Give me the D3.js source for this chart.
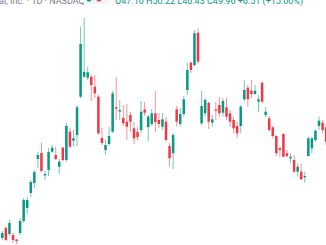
<!DOCTYPE html>
<html>
<head>
<meta charset="utf-8">
<script src="https://cdn.jsdelivr.net/npm/d3@7"></script>
<style>
    html, body { margin: 0; padding: 0; background: #fff; overflow: hidden; }
    svg { display: block; }
    .legend-title { fill: #787b86; }
    .legend-values { fill: #089981; }
</style>
</head>
<body>
<svg id="chart" width="326" height="245"></svg>
<script>
// daily candles
const openP = [26.4, 28.4, 27.2, 27.0, 26.1, 27.4, 29.8, 32.4, 35.4, 37.4,
    42.2, 43.4, 38.9, 40.0, 43.66, 43.0, 40.66, 44.46, 42.0, 47.66,
    45.86, 47.0, 54.66, 58.66, 58.46, 58.66, 56.66, 54.66, 46.4, 44.0,
    45.2, 47.66, 52.54, 51.7, 50.4, 49.66, 51.0, 48.34, 47.6, 48.0,
    52.1, 48.6, 49.2, 51.34, 50.0, 48.66, 49.66, 44.8, 43.34, 52.14,
    49.2, 51.2, 56.0, 61.46, 61.0, 67.46, 49.34, 51.34, 53.46, 49.46,
    52.14, 53.0, 51.46, 52.54, 51.34, 50.0, 48.8, 48.8, 54.14, 56.46,
    55.86, 55.2, 53.66, 57.46, 51.0, 50.34, 48.54, 46.8, 44.34, 47.2,
    43.34, 42.34, 42.0, 39.66, 39.66, 38.54, 42.8, 44.34, 46.0, 48.8,
    49.46, 48.54];
const highP = [27.8, 28.8, 30.0, 27.4, 26.2, 30.4, 34.4, 34.6, 38.0, 40.0,
    43.6, 45.46, 39.8, 44.4, 45.0, 44.66, 42.2, 44.66, 49.46, 48.4,
    48.0, 53.0, 68.66, 70.4, 60.66, 59.14, 59.0, 55.0, 48.4, 46.0,
    48.6, 55.8, 58.6, 54.0, 53.0, 53.2, 51.6, 49.6, 48.6, 53.8,
    53.6, 51.0, 52.2, 55.8, 51.4, 51.4, 50.6, 45.4, 47.4, 52.8,
    52.4, 54.8, 61.46, 61.66, 68.0, 68.34, 55.8, 54.4, 53.66, 51.0,
    53.66, 54.6, 54.4, 54.4, 52.0, 50.6, 49.66, 53.0, 58.0, 57.0,
    58.0, 57.0, 55.0, 57.66, 52.6, 50.8, 48.8, 47.0, 44.66, 47.34,
    44.0, 43.34, 43.0, 41.34, 41.34, 39.66, 46.66, 46.66, 48.0, 50.66,
    50.0, 49.0];
const lowP = [26.0, 25.8, 26.8, 25.4, 25.2, 27.0, 29.4, 31.2, 34.6, 36.4,
    40.4, 39.6, 38.0, 38.8, 43.4, 42.0, 39.2, 41.66, 41.66, 44.34,
    44.66, 44.8, 54.34, 58.4, 58.0, 53.8, 54.4, 47.0, 45.0, 43.0,
    44.8, 47.4, 50.0, 50.0, 48.8, 46.0, 47.6, 45.2, 46.0, 47.4,
    50.8, 45.66, 48.8, 47.6, 48.4, 48.0, 45.66, 40.66, 40.2, 48.66,
    48.66, 50.66, 55.0, 59.4, 60.66, 61.34, 49.0, 50.66, 48.2, 48.66,
    50.0, 50.66, 50.66, 50.0, 48.66, 47.34, 46.34, 47.34, 53.66, 52.66,
    54.34, 55.0, 51.66, 53.34, 50.54, 47.66, 46.34, 42.8, 42.54, 42.54,
    42.54, 41.34, 39.34, 38.66, 38.0, 37.46, 42.66, 43.34, 45.66, 48.0,
    47.34, 45.0];
const closeP = [27.4, 26.0, 29.4, 26.0, 25.8, 29.8, 34.0, 34.0, 37.6, 39.6,
    43.0, 39.8, 39.2, 43.6, 44.46, 42.2, 41.66, 42.0, 48.8, 44.66,
    46.34, 52.54, 65.2, 59.6, 59.54, 57.0, 55.34, 47.34, 45.4, 45.0,
    46.8, 55.34, 52.26, 52.0, 49.34, 48.66, 49.66, 46.34, 46.6, 51.66,
    51.46, 50.7, 51.34, 49.6, 49.2, 50.14, 46.0, 42.34, 47.0, 49.66,
    51.2, 54.14, 60.0, 60.0, 67.34, 61.66, 52.8, 54.0, 49.66, 50.14,
    51.86, 51.34, 53.8, 50.66, 49.66, 48.34, 47.34, 52.66, 56.0, 54.14,
    55.2, 55.86, 54.14, 53.66, 51.66, 48.0, 46.8, 43.34, 44.0, 42.66,
    42.8, 42.66, 39.66, 40.66, 38.14, 38.8, 46.34, 46.34, 47.86, 49.86,
    48.0, 45.66];

const titleText = 'al, Inc. · 1D · NASDAQ';
const valuesText = 'O47.10 H50.22 L46.43 C49.96 +6.51 (+15.00%)';

const upColor = '#089981';
const downColor = '#f23645';

const svg = d3.select('#chart');
const width = +svg.attr('width');
const height = +svg.attr('height');

const candles = openP.map((o, i) => ({
    i: i,
    open: o,
    high: highP[i],
    low: lowP[i],
    close: closeP[i]
}));

// bar step of the cropped view
const step = 3.57;
const xScale = d3.scaleBand()
    .domain(candles.map(d => d.i))
    .range([0, step * candles.length])
    .padding(0.3);
const yScale = d3.scaleLinear()
    .domain([25, 74])
    .range([height, 0]);

const g = svg.append('g');

const candle = g.selectAll('g.candle')
    .data(candles)
    .enter()
    .append('g')
    .attr('class', 'candle');

// wicks
candle.append('line')
    .attr('x1', d => xScale(d.i) + xScale.bandwidth() / 2)
    .attr('x2', d => xScale(d.i) + xScale.bandwidth() / 2)
    .attr('y1', d => yScale(d.high))
    .attr('y2', d => yScale(d.low))
    .attr('stroke', d => d.close >= d.open ? upColor : downColor)
    .attr('stroke-opacity', 0.55)
    .attr('stroke-width', 1);

// bodies
candle.append('rect')
    .attr('x', d => xScale(d.i))
    .attr('width', xScale.bandwidth())
    .attr('y', d => yScale(Math.max(d.open, d.close)))
    .attr('height', d => Math.max(1, Math.abs(yScale(d.open) - yScale(d.close))))
    .attr('fill', d => d.close >= d.open ? upColor : downColor);

// legend row, cut off at the top of the crop
const legend = svg.append('g')
    .style('font-family', 'Roboto, "Liberation Sans", sans-serif')
    .style('font-size', '9px');

legend.append('text')
    .attr('class', 'legend-title')
    .attr('x', -1)
    .attr('y', 4)
    .text(titleText);

legend.append('rect')
    .attr('x', 82)
    .attr('y', -7)
    .attr('width', 28)
    .attr('height', 11)
    .attr('rx', 5)
    .attr('fill', '#f2f3f5');
legend.append('circle')
    .attr('cx', 89)
    .attr('cy', -1)
    .attr('r', 2.5)
    .attr('fill', upColor);
legend.append('circle')
    .attr('cx', 99)
    .attr('cy', -1)
    .attr('r', 2.5)
    .attr('fill', downColor);

legend.append('text')
    .attr('class', 'legend-values')
    .attr('x', 115)
    .attr('y', 4)
    .text(valuesText);
</script>
</body>
</html>
